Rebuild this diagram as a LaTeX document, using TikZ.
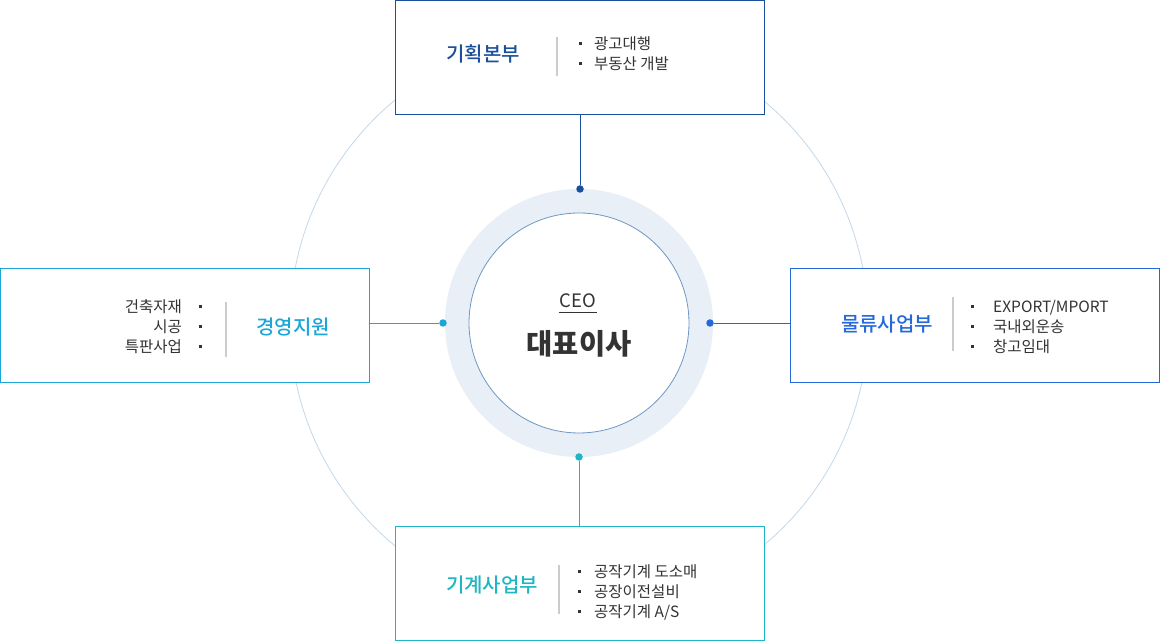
\documentclass[tikz,border=0pt]{standalone}
\usepackage{fontspec}
\setmainfont{Noto Sans CJK KR}
\newfontfamily\medfont{Noto Sans CJK KR Medium}
\usetikzlibrary{positioning,calc}
\definecolor{ink}{HTML}{333333}
\definecolor{navy}{HTML}{1A4F9C}
\definecolor{sky}{HTML}{1CA6D8}
\definecolor{royal}{HTML}{2468DC}
\definecolor{teal}{HTML}{1EB6C4}
\definecolor{ringfill}{HTML}{E8EFF6}
\definecolor{ringline}{HTML}{6E98C4}
\definecolor{orbit}{HTML}{C4D8EA}
\definecolor{sepgrey}{HTML}{CCCCCC}
\newcommand{\bul}{\rule[4.5pt]{3pt}{3pt}}

\begin{document}
\begin{tikzpicture}[x=1pt, y=1pt,
  dept/.style={draw=#1, line width=1pt, fill=white, minimum width=369pt, minimum height=114pt, inner sep=0pt},
  head/.style={text=#1, font=\fontsize{20}{24}\selectfont\medfont, inner sep=0pt},
  items/.style={text=ink, font=\fontsize{15.5}{20}\selectfont, inner sep=0pt},
  sep/.style={draw=sepgrey, line width=1.2pt},
  dot/.style={circle, fill=#1, minimum size=7.5pt, inner sep=0pt},
  link/.style={draw=#1, line width=0.6pt}
]
\useasboundingbox[fill=white] (0,0) rectangle (1160,642);

% orbit and centre
\coordinate (c) at (579,319);
\draw[orbit, line width=0.8pt] (c) circle (289);
\fill[ringfill] (c) circle (134);
\draw[ringline, fill=white, line width=0.8pt] (c) circle (110);
\node[text=ink, font=\fontsize{18.5}{22}\selectfont, inner sep=1pt] (ceo) at (578,341) {CEO};
\draw[ink, line width=0.8pt] ([yshift=-3pt]ceo.south west) -- ([yshift=-3pt]ceo.south east);
\node[text=ink, font=\fontsize{28.5}{32}\selectfont\bfseries, inner sep=0pt] (boss) at (579,298) {대표이사};

% departments
\node[dept=navy] (plan) at (580,584) {};
\node[dept=sky] (supp) at (185,316) {};
\node[dept=royal] (logi) at (975,316) {};
\node[dept=teal] (mach) at (580,58) {};

\node[head=navy] (planh) at (483,588) {기획본부};
\draw[sep] (557,605) -- (557,566);
\node[items, align=left, anchor=west] (planl) at (579,588) {\bul\hspace{12pt}광고대행\\\bul\hspace{12pt}부동산 개발};

\node[head=sky] (supph) at (293,315) {경영지원};
\draw[sep] (226,340) -- (226,285);
\node[items, align=right, anchor=east] (suppl) at (202,315) {건축자재\hspace{17pt}\bul\\시공\hspace{17pt}\bul\\특판사업\hspace{17pt}\bul};

\node[head=royal] (logih) at (887,318) {물류사업부};
\draw[sep] (953,345) -- (953,291);
\node[items, align=left, anchor=west] (logil) at (971,315) {\bul\hspace{19pt}EXPORT/MPORT\\\bul\hspace{19pt}국내외운송\\\bul\hspace{19pt}창고임대};

\node[head=teal] (machh) at (492,57) {기계사업부};
\draw[sep] (559,77) -- (559,28);
\node[items, align=left, anchor=west] (machl) at (578,50) {\bul\hspace{13pt}공작기계 도소매\\\bul\hspace{13pt}공장이전설비\\\bul\hspace{13pt}공작기계 A/S};

% connectors
\node[dot=navy] (dplan) at (580,453) {};
\node[dot=sky] (dsupp) at (443,319) {};
\node[dot=royal] (dlogi) at (710,319) {};
\node[dot=teal] (dmach) at (579,185) {};

\draw[link=navy] (dplan) -- (dplan |- plan.south);
\draw[link=sky] (dsupp) -- (dsupp -| supp.east);
\draw[link=royal] (dlogi) -- (dlogi -| logi.west);
\draw[link=teal] (dmach) -- (dmach |- mach.north);
\end{tikzpicture}
\end{document}
